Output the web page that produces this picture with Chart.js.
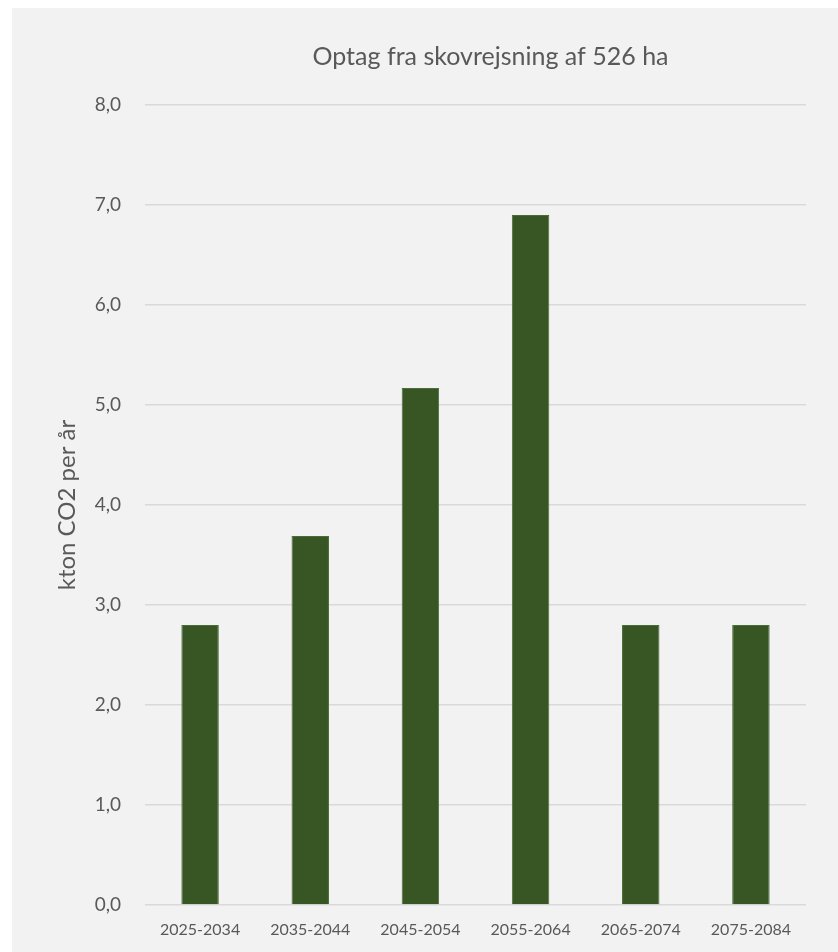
<!DOCTYPE html>
<html>
<head>
<meta charset="utf-8">
<script src="https://cdn.jsdelivr.net/npm/chart.js@4"></script>
<style>
  body { margin: 0; background: #fff; }
  #panel { position: absolute; left: 12px; top: 8px; width: 826px; height: 944px; background: #f2f2f2; }
</style>
</head>
<body>
<div id="panel"><canvas id="optag" width="826" height="944"></canvas></div>
<script>
const periods = ["2025-2034", "2035-2044", "2045-2054", "2055-2064", "2065-2074", "2075-2084"];
const optag = [2.8, 3.69, 5.17, 6.9, 2.8, 2.8];
const yTicks = [0, 1, 2, 3, 4, 5, 6, 7, 8];

const fontFamily = "Lato, 'Open Sans', sans-serif";

// nudge the title a little to the right, like the original
const shiftTitle = {
  id: "shiftTitle",
  afterLayout(chart) {
    if (chart.titleBlock) {
      chart.titleBlock.left += 15;
      chart.titleBlock.right += 15;
    }
  },
};

document.addEventListener("DOMContentLoaded", () => {
  new Chart(document.getElementById("optag"), {
    type: "bar",
    data: {
      labels: periods,
      datasets: [
        {
          label: "Optag",
          data: optag,
          backgroundColor: "#375623",
          borderColor: "#4d6b3a",
          borderWidth: 1,
          barPercentage: 0.34,
          categoryPercentage: 1,
        },
      ],
    },
    plugins: [shiftTitle],
    options: {
      responsive: false,
      animation: false,
      layout: { padding: { left: 0, right: 32, top: 0, bottom: 0 } },
      plugins: {
        legend: { display: false },
        tooltip: { enabled: false },
        title: {
          display: true,
          fullSize: false,
          text: "Optag fra skovrejsning af 526 ha",
          color: "#595959",
          font: { family: fontFamily, size: 25, weight: "normal" },
          padding: { top: 34, bottom: 33 },
        },
      },
      scales: {
        x: {
          grid: { display: false, drawTicks: false },
          border: { display: false },
          ticks: {
            color: "#595959",
            font: { family: fontFamily, size: 16 },
            padding: 15,
            maxRotation: 0,
          },
          afterFit: (scale) => { scale.height = 47; },
        },
        y: {
          min: 0,
          max: 8,
          afterBuildTicks: (scale) => { scale.ticks = yTicks.map((v) => ({ value: v })); },
          grid: { color: "#d9d9d9", lineWidth: 1.5, drawTicks: false },
          border: { display: false },
          ticks: {
            color: "#595959",
            font: { family: fontFamily, size: 19 },
            padding: 24,
            callback: (v) => v.toFixed(1).replace(".", ","),
          },
          title: {
            display: true,
            text: "kton CO2 per år",
            color: "#595959",
            font: { family: fontFamily, size: 24 },
            padding: { top: 41, bottom: 0 },
          },
          afterFit: (scale) => { scale.width = 133; },
        },
      },
    },
  });
});
</script>
</body>
</html>
